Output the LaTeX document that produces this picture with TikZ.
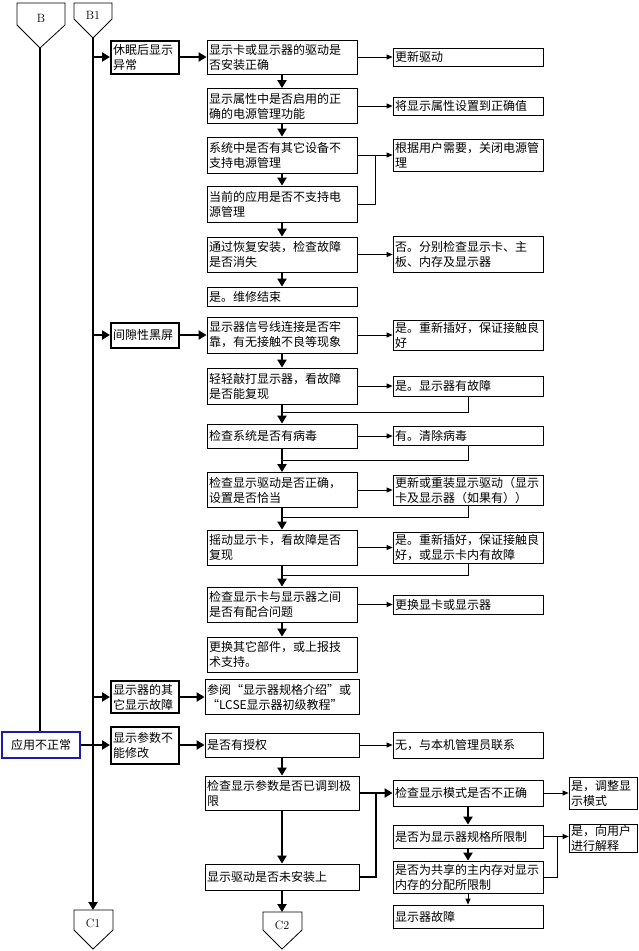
\documentclass[tikz,border=0pt]{standalone}
\usepackage{fontspec}
\newfontfamily\cjk{Noto Sans CJK SC}
\usepackage{xcolor}
\usepackage{tikz}
\usetikzlibrary{calc,arrows.meta}
\definecolor{ink}{HTML}{000000}
\definecolor{appblue}{HTML}{1C1CA8}
\tikzset{
  thk/.style={draw=ink, line width=2pt},
  thn/.style={draw=ink, line width=0.8pt},
  bigtip/.style={-{Triangle[length=8pt,width=9pt]}},
  smalltip/.style={-{Triangle[length=6pt,width=5pt]}},
  box/.style={draw=ink, line width=0.8pt, inner xsep=2pt, inner ysep=1pt, align=left,
    font=\cjk\fontsize{12}{15}\selectfont},
  ask/.style={box, text width=146pt, minimum height=#1},
  askw/.style={box, text width=150pt, minimum height=#1},
  fix/.style={box, text width=146pt, minimum height=#1},
  note/.style={box, text width=64pt, minimum height=#1},
  kind/.style={box, line width=2pt, text width=64pt, minimum height=#1},
  pent/.style={draw=ink, line width=0.8pt},
  lab/.style={font=\rmfamily\fontsize{12}{14}\selectfont},
}

\begin{document}
\begin{tikzpicture}[x=1pt,y=-1pt]
  \useasboundingbox (0,0) rectangle (639,951);
  \fill[white] (0,0) rectangle (639,951);

  % off-page connectors
  \draw[pent] (17,3) -- (65,3) -- (65,25) -- (40,48) -- (17,25) -- cycle;
  \node[lab] (B) at (41,18) {B};
  \coordinate (B-tip) at (40,48);
  \draw[pent] (74,3) -- (112,3) -- (112,19) -- (93,38) -- (74,19) -- cycle;
  \node[lab] (B1) at (93,15) {B1};
  \coordinate (B1-tip) at (93,38);
  \draw[pent] (74,910) -- (113,910) -- (113,930) -- (93,949) -- (74,930) -- cycle;
  \node[lab] (C1) at (93,923) {C1};
  \coordinate (C1-top) at (93,910);
  \draw[pent] (263,912) -- (302,912) -- (302,930) -- (282,949) -- (263,930) -- cycle;
  \node[lab] (C2) at (282,925) {C2};
  \coordinate (C2-top) at (282,912);

  % fault kinds
  \node[kind=33] (sleep) at (145,57) {休眠后显示\\异常};
  \node[kind=25] (blink) at (145,335) {间隙性黑屏};
  \node[kind=32] (other) at (145,697) {显示器的其\\它显示故障};
  \node[kind=37] (param) at (145,745) {显示参数不\\能修改};
  \node[box, draw=appblue, line width=2pt, text width=74pt, minimum height=26, align=center]
    (app) at (41,745) {应用不正常};

  % checks
  \node[ask=34] (drv) at (282,57) {显示卡或显示器的驱动是\\否安装正确};
  \node[ask=35] (pwr) at (282,106) {显示属性中是否启用的正\\确的电源管理功能};
  \node[ask=36] (dev) at (282,155) {系统中是否有其它设备不\\支持电源管理};
  \node[ask=36] (chk) at (282,204) {当前的应用是否不支持电\\源管理};
  \node[ask=35] (restore) at (282,254.5) {通过恢复安装，检查故障\\是否消失};
  \node[ask=19] (end1) at (282,296.5) {是。维修结束};
  \node[ask=36] (cable) at (282,335) {显示器信号线连接是否牢\\靠，有无接触不良等现象};
  \node[ask=36] (tap) at (282,386) {轻轻敲打显示器，看故障\\是否能复现};
  \node[ask=24] (virus) at (282,436) {检查系统是否有病毒};
  \node[ask=35] (drvset) at (282,490) {检查显示驱动是否正确，\\设置是否恰当};
  \node[ask=35] (shake) at (282,547.5) {摇动显示卡，看故障是否\\复现};
  \node[ask=35] (match) at (282,604.5) {检查显示卡与显示器之间\\是否有配合问题};
  \node[ask=35] (end2) at (282,654.5) {更换其它部件，或上报技\\术支持。};
  \node[askw=35] (ref) at (282,697) {参阅“显示器规格介绍”或\\“LCSE显示器初级教程”};
  \node[askw=24] (auth) at (282,745) {是否有授权};
  \node[askw=34] (limit) at (282,793) {检查显示参数是否已调到极\\限};
  \node[askw=26] (notinst) at (282,877) {显示驱动是否未安装上};

  % answers
  \node[fix=18] (a1) at (468,57) {更新驱动};
  \node[fix=18] (a2) at (468,106) {将显示属性设置到正确值};
  \node[fix=32] (a3) at (468,155) {根据用户需要，关闭电源管\\理};
  \node[fix=36] (a5) at (468,254.5) {否。分别检查显示卡、主\\板、内存及显示器};
  \node[fix=30] (a6) at (468,335) {是。重新插好，保证接触良\\好};
  \node[fix=20] (a7) at (468,386) {是。显示器有故障};
  \node[fix=19] (a8) at (468,436) {有。清除病毒};
  \node[fix=30] (a9) at (468,490) {更新或重装显示驱动（显示\\卡及显示器（如果有））};
  \node[fix=31] (a10) at (468,547.5) {是。重新插好，保证接触良\\好，或显示卡内有故障};
  \node[fix=19] (a11) at (468,604.5) {更换显卡或显示器};
  \node[fix=26] (contact) at (468,745) {无，与本机管理员联系};
  \node[fix=26] (mode) at (468,793) {检查显示模式是否不正确};
  \node[fix=23] (spec) at (468,836.5) {是否为显示器规格所限制};
  \node[fix=32] (share) at (468,877) {是否为共享的主内存对显示\\内存的分配所限制};
  \node[fix=23] (broken) at (468,916.5) {显示器故障};
  \node[note=32] (fixmode) at (603,793) {是，调整显\\示模式};
  \node[note=27] (explain) at (603,838) {是，向用户\\进行解释};

  % spines
  \draw[thk] (B-tip) -- (B-tip |- app.north);
  \draw[thk,bigtip] (B1-tip) -- (C1-top);
  \foreach \k in {sleep,blink,other}
    \draw[thk,bigtip] (B1-tip |- \k.west) -- (\k.west);
  \draw[thk,bigtip] (app.east) -- (param.west);

  % into the checks
  \foreach \s/\t in {sleep/drv,blink/cable,other/ref,param/auth}
    \draw[thk,bigtip] (\s.east) -- (\t.west);
  \foreach \s/\t in {drv/pwr,pwr/dev,dev/chk,chk/restore,restore/end1,cable/tap,tap/virus,
      virus/drvset,drvset/shake,shake/match,match/end2,auth/limit,limit/notinst,mode/spec,spec/share}
    \draw[thk,bigtip] (\s.south) -- (\t.north);
  \draw[thk,bigtip] (notinst.south) -- (C2-top);
  \draw[thn,smalltip] (share.south) -- (broken.north);

  % checks to answers
  \foreach \s/\t in {drv/a1,pwr/a2,dev/a3,restore/a5,cable/a6,tap/a7,virus/a8,
      drvset/a9,shake/a10,match/a11,auth/contact,mode/fixmode}
    \draw[thn,smalltip] (\s.east) -- (\t.west);
  \coordinate (j-dev) at ($(dev.east)+(18,0)$);
  \draw[thn] (chk.east) -| (j-dev);
  \draw[thn,smalltip] (spec.east) -- (spec.east -| explain.west);
  \coordinate (j-spec) at ($(spec.east)+(14,0)$);
  \draw[thn] (share.east) -| (j-spec);
  \coordinate (j-lim) at ($(limit.east)+(17,0)$);
  \draw[thk,bigtip] (limit.east) -- (mode.west);
  \draw[thk] (notinst.east) -| (j-lim);

  % answers back to the main line
  \coordinate (j-tap) at ($(tap.south)!0.4!(virus.north)$);
  \coordinate (j-virus) at ($(virus.south)!0.5!(drvset.north)$);
  \coordinate (j-drvset) at ($(drvset.south)!0.45!(shake.north)$);
  \coordinate (j-shake) at ($(shake.south)!0.45!(match.north)$);
  \draw[thn] (a7.south) |- (j-tap);
  \draw[thn] (a8.south) |- (j-virus);
  \draw[thn] (a9.south) |- (j-drvset);
  \draw[thn] (a10.south) |- (j-shake);
\end{tikzpicture}
\end{document}
